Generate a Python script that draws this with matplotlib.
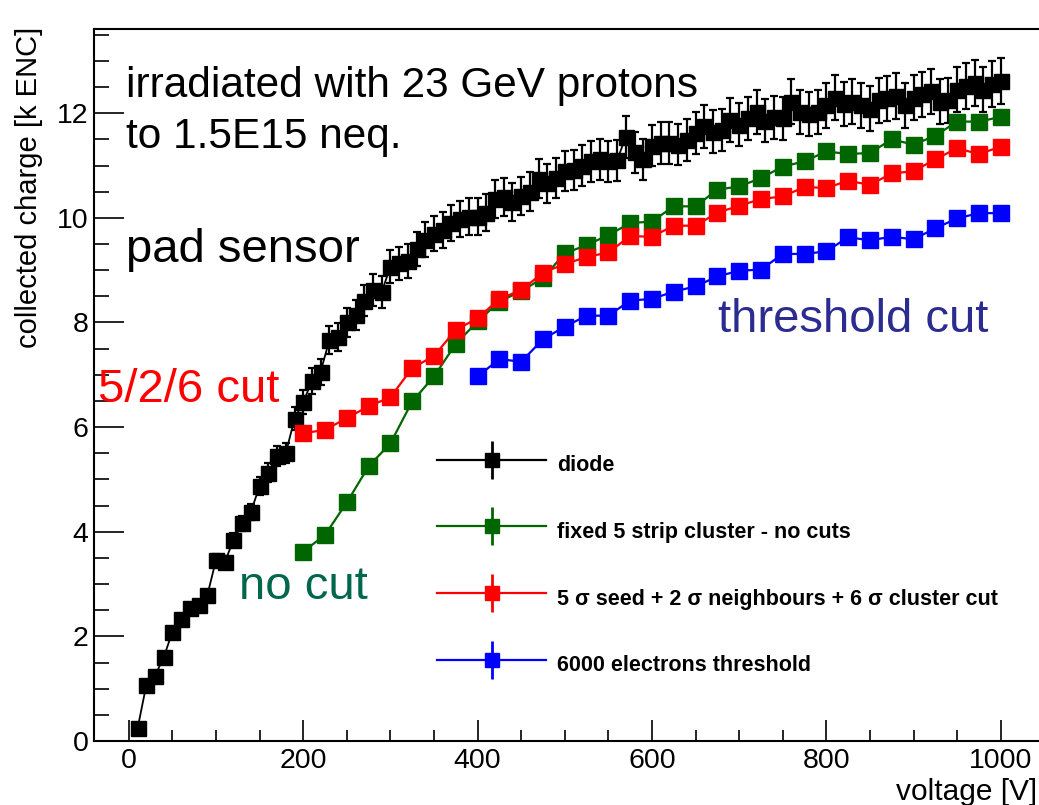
import matplotlib
matplotlib.use("Agg")
import numpy as np
import matplotlib.pyplot as plt
from matplotlib.lines import Line2D
from matplotlib.legend_handler import HandlerTuple
from matplotlib.ticker import MultipleLocator

plt.rcParams['font.family'] = ['Liberation Sans', 'DejaVu Sans']

# ---------------- data ----------------
diode_voltage = [10, 20, 30, 40, 50, 60, 70, 80, 90, 100,
                 110, 120, 130, 140, 150, 160, 170, 180, 190, 200,
                 210, 220, 230, 240, 250, 260, 270, 280, 290, 300,
                 310, 320, 330, 340, 350, 360, 370, 380, 390, 400,
                 410, 420, 430, 440, 450, 460, 470, 480, 490, 500,
                 510, 520, 530, 540, 550, 560, 570, 580, 590, 600,
                 610, 620, 630, 640, 650, 660, 670, 680, 690, 700,
                 710, 720, 730, 740, 750, 760, 770, 780, 790, 800,
                 810, 820, 830, 840, 850, 860, 870, 880, 890, 900,
                 910, 920, 930, 940, 950, 960, 970, 980, 990, 1000]
diode_charge = [0.24, 1.07, 1.25, 1.60, 2.09, 2.34, 2.54, 2.60, 2.79, 3.46,
                3.42, 3.84, 4.16, 4.38, 4.88, 5.13, 5.45, 5.50, 6.16, 6.48,
                6.88, 7.06, 7.67, 7.72, 8.00, 8.15, 8.42, 8.62, 8.58, 9.07,
                9.13, 9.18, 9.40, 9.58, 9.70, 9.77, 9.90, 9.98, 10.02, 10.02,
                10.10, 10.36, 10.40, 10.30, 10.42, 10.50, 10.75, 10.66, 10.76, 10.90,
                10.92, 11.00, 11.08, 11.12, 11.08, 11.10, 11.55, 11.25, 11.12, 11.38,
                11.43, 11.43, 11.40, 11.49, 11.62, 11.75, 11.65, 11.68, 11.87, 11.78,
                11.90, 12.02, 11.86, 11.92, 11.90, 12.22, 12.02, 11.99, 12.02, 12.15,
                12.30, 12.18, 12.22, 12.15, 12.09, 12.25, 12.29, 12.33, 12.15, 12.30,
                12.36, 12.42, 12.22, 12.25, 12.45, 12.52, 12.58, 12.45, 12.55, 12.62]
diode_rel_err = 0.035

strip_voltage = [200, 225, 250, 275, 300, 325, 350, 375, 400, 425, 450,
                 475, 500, 525, 550, 575, 600, 625, 650, 675, 700, 725,
                 750, 775, 800, 825, 850, 875, 900, 925, 950, 975, 1000]
nocut_charge = [3.62, 3.94, 4.56, 5.25, 5.69, 6.49, 6.97, 7.59, 8.02, 8.40, 8.60,
                8.85, 9.32, 9.48, 9.67, 9.90, 9.93, 10.22, 10.22, 10.54, 10.60, 10.76,
                10.98, 11.08, 11.27, 11.22, 11.24, 11.50, 11.40, 11.57, 11.84, 11.84, 11.93]
cut526_charge = [5.88, 5.95, 6.17, 6.40, 6.57, 7.13, 7.36, 7.86, 8.08, 8.45, 8.62,
                 8.95, 9.12, 9.25, 9.34, 9.65, 9.64, 9.85, 9.85, 10.10, 10.23, 10.36,
                 10.41, 10.59, 10.57, 10.71, 10.63, 10.85, 10.89, 11.12, 11.33, 11.22, 11.36]

thr_voltage = [400, 425, 450, 475, 500, 525, 550, 575, 600, 625, 650, 675, 700,
               725, 750, 775, 800, 825, 850, 875, 900, 925, 950, 975, 1000]
thr_charge = [6.97, 7.30, 7.25, 7.68, 7.92, 8.13, 8.13, 8.42, 8.45, 8.59, 8.69, 8.88, 8.99,
              9.01, 9.31, 9.31, 9.36, 9.63, 9.57, 9.64, 9.59, 9.80, 9.99, 10.09, 10.09]

legend_labels = ["diode",
                 "fixed 5 strip cluster - no cuts",
                 "5 \u03c3 seed + 2 \u03c3 neighbours + 6 \u03c3 cluster cut",
                 "6000 electrons threshold"]

C_BLACK = "#000000"
C_GREEN = "#006600"
C_RED = "#ff0000"
C_BLUE = "#0000ff"

# ---------------- figure ----------------
W, H = 1039, 805
fig = plt.figure(figsize=(W / 100, H / 100), dpi=100)
ax_left, ax_right, ax_top, ax_bot = 94, 1053, 29, 741
ax = fig.add_axes([ax_left / W, (H - ax_bot) / H, (ax_right - ax_left) / W, (ax_bot - ax_top) / H])
ax.set_xlim(-40, 1060)
ax.set_ylim(0, 13.61)

dv = np.array(diode_charge)
ax.errorbar(diode_voltage, diode_charge, yerr=dv * diode_rel_err, fmt='s-', color=C_BLACK,
            ms=10.8, lw=1.3, elinewidth=1.6, capsize=2.6, capthick=1.6, zorder=3)
ax.plot(strip_voltage, nocut_charge, 's-', color=C_GREEN, ms=11, lw=1.6, zorder=4)
ax.plot(strip_voltage, cut526_charge, 's-', color=C_RED, ms=11, lw=1.6, zorder=5)
ax.plot(thr_voltage, thr_charge, 's-', color=C_BLUE, ms=11, lw=1.6, zorder=6)

# axes styling (ROOT-like)
for s in ['left', 'bottom', 'top']:
    ax.spines[s].set_linewidth(1.5)
ax.spines['right'].set_visible(False)
ax.xaxis.set_major_locator(MultipleLocator(200))
ax.xaxis.set_minor_locator(MultipleLocator(50))
ax.yaxis.set_major_locator(MultipleLocator(2))
ax.yaxis.set_minor_locator(MultipleLocator(0.5))
ax.tick_params(axis='y', which='major', direction='in', length=21.6, width=1.2, labelsize=20.5, pad=4)
ax.tick_params(axis='y', which='minor', direction='in', length=10.8, width=1.2)
ax.tick_params(axis='x', which='major', direction='in', length=15, width=1.2, labelsize=20.5, pad=5)
ax.tick_params(axis='x', which='minor', direction='in', length=8, width=1.2)
ax.tick_params(top=False, right=False, which='both')

fig.text(29.5 / W, 1 - 187 / H, "collected charge [k ENC]", rotation=90,
         ha='center', va='center', fontsize=21)
fig.text(1037 / W, 1 - 792 / H, "voltage [V]", ha='right', va='center', fontsize=21.5)

# annotations
def ftext(x, y, s, **kw):
    fig.text(x / W, 1 - y / H, s, ha='left', va='baseline', **kw)

ftext(126, 97, "irradiated with 23 GeV protons", fontsize=30.5, color='black')
ftext(126, 148, "to 1.5E15 neq.", fontsize=30.5, color='black')
ftext(126, 262, "pad sensor", fontsize=34, color='black')
ftext(98, 402, "5/2/6 cut", fontsize=34, color=C_RED)
ftext(239, 599, "no cut", fontsize=34, color='#00664c')
ftext(718, 332, "threshold cut", fontsize=34, color='#2b2b90')

# legend
handles = []
for c in [C_BLACK, C_GREEN, C_RED, C_BLUE]:
    h1 = Line2D([], [], color=c, lw=1.6, marker='s', ms=10.5)
    h2 = Line2D([], [], color=c, ls='none', marker='|', ms=28, mew=2)
    handles.append((h1, h2))
leg_fs = 15.5
leg = ax.legend(handles, legend_labels, handler_map={tuple: HandlerTuple(ndivide=1)},
                loc='upper left', bbox_to_anchor=(436.7 / W, 1 - 448 / H),
                bbox_transform=fig.transFigure, frameon=False, numpoints=1,
                handlelength=5.1, handleheight=2.0, handletextpad=0.5,
                labelspacing=1.55, borderpad=0, borderaxespad=0,
                prop={'size': leg_fs, 'weight': 'bold'})

fig.savefig("out.png", dpi=100)
